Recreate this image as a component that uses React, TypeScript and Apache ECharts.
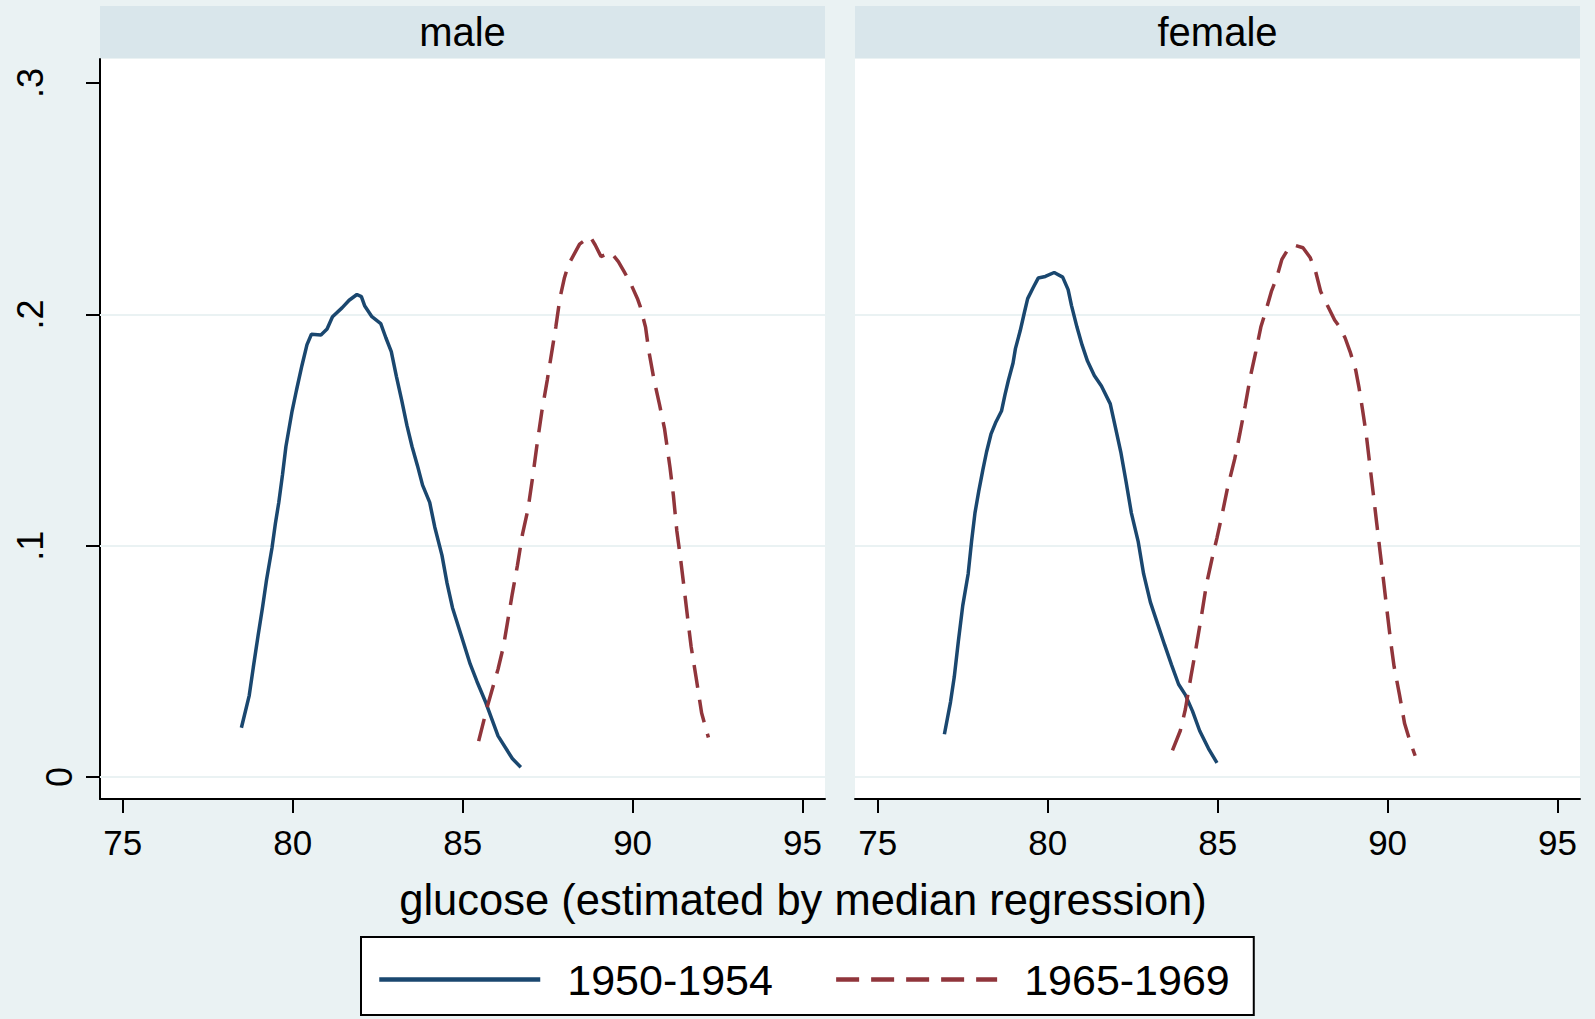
import React, { useEffect, useRef } from "react";
import * as echarts from "echarts";

const FONT = '"Liberation Sans", Arial, Helvetica, sans-serif';
const BLUE = "#1A476F";
const RED = "#90353B";
const BG = "#EAF2F3";
const STRIP = "#D9E6EB";

const panels = ["male", "female"];
const seriesNames = ["1950-1954", "1965-1969"];
const xTicks = [75, 80, 85, 90, 95];
const yTicks = [0, 0.1, 0.2, 0.3];
const gridValues = [0, 0.1, 0.2];
const xTitle = "glucose (estimated by median regression)";

// [glucose, density]
const male1950 = [
  [78.49, 0.0213], [78.72, 0.0352], [78.84, 0.0474], [78.98, 0.0611], [79.11, 0.0732],
  [79.23, 0.0853], [79.39, 0.099], [79.49, 0.1096], [79.59, 0.1187], [79.7, 0.1308],
  [79.8, 0.1429], [79.98, 0.1581], [80.11, 0.1672], [80.27, 0.1778], [80.42, 0.1869],
  [80.55, 0.1914], [80.83, 0.1911], [81.01, 0.1937], [81.17, 0.199], [81.45, 0.2028],
  [81.66, 0.2061], [81.89, 0.2086], [82.02, 0.2077], [82.12, 0.2036], [82.33, 0.199],
  [82.59, 0.196], [82.74, 0.1899], [82.9, 0.1839], [83.05, 0.1732], [83.21, 0.1626],
  [83.36, 0.152], [83.51, 0.1429], [83.67, 0.1346], [83.82, 0.1262], [84.03, 0.1187],
  [84.18, 0.108], [84.39, 0.0959], [84.54, 0.0838], [84.7, 0.0732], [84.96, 0.0611],
  [85.22, 0.0489], [85.42, 0.0413], [85.68, 0.0322], [86.04, 0.0178], [86.46, 0.008],
  [86.71, 0.0042],
];

const male1965 = [
  [85.47, 0.0155], [85.73, 0.0307], [86.04, 0.0466], [86.2, 0.0565], [86.46, 0.0792],
  [86.61, 0.0914], [86.76, 0.105], [86.92, 0.1156], [87.07, 0.1308], [87.18, 0.1429],
  [87.33, 0.1581], [87.49, 0.1717], [87.64, 0.1854], [87.74, 0.1945], [87.86, 0.2069],
  [87.99, 0.2156], [88.11, 0.2214], [88.44, 0.2304], [88.75, 0.2336], [88.9, 0.23],
  [89.07, 0.225], [89.36, 0.2268], [89.58, 0.2228], [89.75, 0.2185], [89.94, 0.2134],
  [90.14, 0.2069], [90.22, 0.2036], [90.38, 0.1945], [90.48, 0.1839], [90.63, 0.1717],
  [90.79, 0.1611], [90.94, 0.1505], [91.1, 0.1338], [91.2, 0.1217], [91.3, 0.1065],
  [91.41, 0.0944], [91.51, 0.0823], [91.62, 0.0686], [91.72, 0.0565], [91.87, 0.0428],
  [92.03, 0.0277], [92.23, 0.0171],
];

const female1950 = [
  [76.96, 0.0185], [77.14, 0.0324], [77.25, 0.0432], [77.37, 0.0586], [77.5, 0.0741],
  [77.66, 0.0879], [77.76, 0.1019], [77.86, 0.1142], [77.97, 0.1235], [78.09, 0.1327],
  [78.2, 0.1405], [78.33, 0.1482], [78.48, 0.1536], [78.64, 0.1582], [78.74, 0.1651],
  [78.84, 0.1713], [78.98, 0.179], [79.05, 0.1852], [79.19, 0.1929], [79.31, 0.2006],
  [79.41, 0.2068], [79.57, 0.2115], [79.72, 0.2157], [79.93, 0.2164], [80.19, 0.2181],
  [80.44, 0.2161], [80.6, 0.2107], [80.7, 0.2038], [80.86, 0.1945], [81.01, 0.1868],
  [81.17, 0.1798], [81.37, 0.1736], [81.58, 0.169], [81.84, 0.1613], [81.99, 0.1513],
  [82.15, 0.1405], [82.3, 0.1281], [82.46, 0.1142], [82.66, 0.1019], [82.82, 0.0879],
  [83.02, 0.0756], [83.23, 0.0663], [83.44, 0.0571], [83.64, 0.0486], [83.85, 0.0401],
  [84.05, 0.0355], [84.26, 0.0285], [84.47, 0.02], [84.73, 0.0123], [84.98, 0.0061],
];

const female1965 = [
  [83.67, 0.0115], [83.9, 0.02], [84.05, 0.0293], [84.21, 0.0432], [84.36, 0.0555],
  [84.52, 0.0694], [84.67, 0.0833], [84.83, 0.0941], [84.98, 0.1034], [85.14, 0.1142],
  [85.29, 0.125], [85.5, 0.1374], [85.65, 0.1482], [85.81, 0.1605], [85.96, 0.1729],
  [86.12, 0.1837], [86.27, 0.1945], [86.43, 0.2022], [86.58, 0.2099], [86.74, 0.2161],
  [86.89, 0.2238], [87.05, 0.2277], [87.25, 0.23], [87.51, 0.2288], [87.72, 0.2246],
  [87.87, 0.2192], [88.03, 0.2099], [88.23, 0.2038], [88.44, 0.1976], [88.59, 0.1945],
  [88.75, 0.1898], [88.9, 0.1837], [89.06, 0.176], [89.16, 0.1682], [89.26, 0.159],
  [89.37, 0.1482], [89.47, 0.1358], [89.57, 0.1235], [89.68, 0.1096], [89.78, 0.0972],
  [89.88, 0.0849], [89.99, 0.0709], [90.09, 0.0586], [90.19, 0.0478], [90.35, 0.0355],
  [90.5, 0.0231], [90.66, 0.0154], [90.81, 0.0092],
];

const X_MIN = 74.33;
const X_MAX = 95.66;
const Y_MIN = -0.0095;
const Y_MAX = 0.3104;

const fmtY = (v: number) => (v === 0 ? "0" : String(Number(v.toFixed(1))).replace(/^0/, ""));

const App = () => {
  const chartRef = useRef<HTMLDivElement>(null);

  useEffect(() => {
    if (!chartRef.current) return;
    const chart = echarts.init(chartRef.current, null, { renderer: "svg" });

    const black = { color: "#000", width: 2 };
    const gridLeft = [100, 855];

    const xAxis = panels.map((_, i) => ({
      type: "value",
      gridIndex: i,
      min: X_MIN,
      max: X_MAX,
      axisLine: { show: true, onZero: false, lineStyle: black },
      axisTick: { show: true, length: 14, customValues: xTicks, lineStyle: black },
      axisLabel: { customValues: xTicks, fontSize: 35, color: "#000", margin: 26, fontFamily: FONT },
      splitLine: { show: false },
    }));

    const yLabel = (vals: number[], margin: number) => ({
      customValues: vals,
      rotate: 90,
      margin,
      fontSize: 36,
      color: "#000",
      fontFamily: FONT,
      formatter: fmtY,
    });

    const zeroTick = yTicks.filter((v) => v === 0);
    const otherTicks = yTicks.filter((v) => v !== 0);

    const yAxis = [
      {
        type: "value",
        gridIndex: 0,
        position: "left",
        min: Y_MIN,
        max: Y_MAX,
        axisLine: { show: true, onZero: false, lineStyle: black },
        axisTick: { show: true, length: 14, customValues: zeroTick, lineStyle: black },
        axisLabel: yLabel(zeroTick, 23),
        splitLine: { show: false },
      },
      {
        type: "value",
        gridIndex: 0,
        position: "left",
        min: Y_MIN,
        max: Y_MAX,
        axisLine: { show: false },
        axisTick: { show: true, length: 14, customValues: otherTicks, lineStyle: black },
        axisLabel: yLabel(otherTicks, 52),
        splitLine: { show: false },
      },
      { type: "value", gridIndex: 1, min: Y_MIN, max: Y_MAX, show: false },
    ];

    const gridLines = {
      silent: true,
      z: 1,
      symbol: ["none", "none"],
      label: { show: false },
      lineStyle: { color: BG, width: 2, type: "solid" },
      data: gridValues.map((v) => ({ yAxis: v })),
    };

    const panelData = [
      [male1950, male1965],
      [female1950, female1965],
    ];
    const colors = [BLUE, RED];
    const dashes: any[] = ["solid", [23, 12]];

    const series: any[] = [];
    panelData.forEach((pair, p) => {
      pair.forEach((d, s) => {
        series.push({
          name: seriesNames[s],
          type: "line",
          xAxisIndex: p,
          yAxisIndex: p === 0 ? 0 : 2,
          data: d,
          symbol: "none",
          z: 3,
          lineStyle: { color: colors[s], width: 3.5, type: dashes[s] },
          itemStyle: { color: colors[s] },
          markLine: s === 0 ? gridLines : undefined,
        });
      });
    });

    const graphic: any[] = [];
    panels.forEach((name, i) => {
      graphic.push({
        type: "rect",
        silent: true,
        shape: { x: gridLeft[i], y: 6, width: 725, height: 52 },
        style: { fill: STRIP },
      });
      graphic.push({
        type: "text",
        silent: true,
        x: gridLeft[i] + 362.5,
        y: 31.5,
        style: {
          text: name,
          fontSize: 40,
          fontFamily: FONT,
          fill: "#000",
          align: "center",
          verticalAlign: "middle",
          textAlign: "center",
          textVerticalAlign: "middle",
        },
      });
    });
    graphic.push({
      type: "text",
      silent: true,
      x: 803,
      y: 900,
      style: {
        text: xTitle,
        fontSize: 43.5,
        fontFamily: FONT,
        fill: "#000",
        align: "center",
        verticalAlign: "middle",
        textAlign: "center",
        textVerticalAlign: "middle",
      },
    });

    const options = {
      animation: false,
      backgroundColor: BG,
      textStyle: { fontFamily: FONT },
      grid: gridLeft.map((left) => ({
        left,
        top: 59,
        width: 725,
        height: 740,
        show: true,
        backgroundColor: "#fff",
        borderWidth: 0,
      })),
      xAxis,
      yAxis,
      legend: {
        data: seriesNames,
        left: 361,
        top: 937,
        orient: "horizontal",
        padding: [21, 24, 14, 16],
        itemGap: 61,
        itemWidth: 161,
        itemHeight: 14,
        backgroundColor: "#fff",
        borderColor: "#000",
        borderWidth: 2,
        borderRadius: 0,
        selectedMode: false,
        itemStyle: { opacity: 0, borderWidth: 0 },
        lineStyle: { width: 4.5 },
        textStyle: { fontSize: 43, color: "#000", fontFamily: FONT, padding: [0, 0, 0, 22] },
      },
      graphic,
      series,
    };

    chart.setOption(options as any);

    return () => {
      chart.dispose();
    };
  }, []);

  return (
    <div
      ref={chartRef}
      style={{ position: "absolute", left: 0, top: 0, width: "1595px", height: "1019px" }}
    />
  );
};

export default App;
